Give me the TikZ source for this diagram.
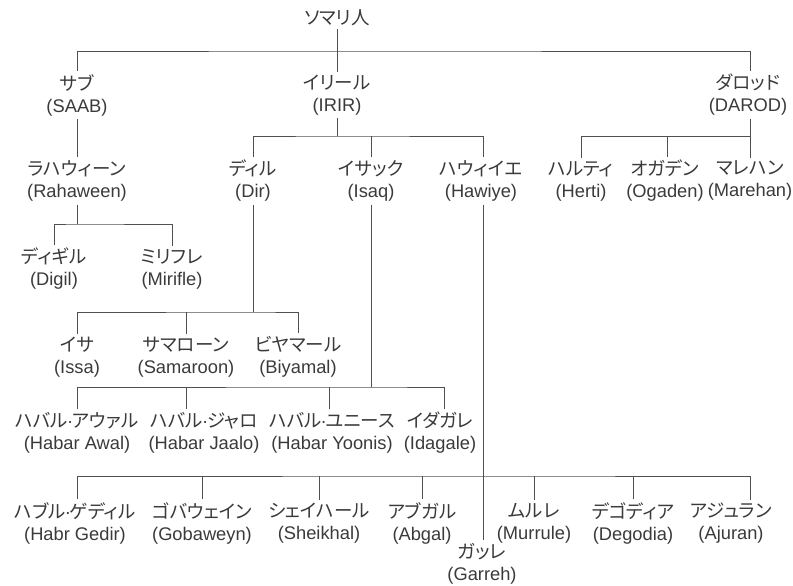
\documentclass[tikz,border=0pt]{standalone}
\usepackage{fontspec}
\setmainfont{Liberation Sans}
\newfontfamily\jpfont[RawFeature=+palt]{Noto Sans CJK JP}
\usetikzlibrary{positioning}
\definecolor{txtgray}{HTML}{3A3A3A}
\definecolor{linegray}{HTML}{505050}
\newcommand\clan[2]{{\jpfont\fontsize{18.5}{22}\selectfont #1}\\#2}
\newcommand\dt{{\normalfont\hspace{-1pt}·\hspace{-1pt}}}

\begin{document}
\begin{tikzpicture}[x=1pt, y=-1pt,
    tag/.style={align=center, inner sep=3pt, text=txtgray, font=\fontsize{18.3}{22}\selectfont},
    link/.style={draw=linegray, line width=0.9pt}]
\useasboundingbox (0,0) rectangle (793,586);
\node[tag] (root) at (337,18) {\jpfont\fontsize{18.5}{22}\selectfont ソマリ人};
\node[tag] (saab) at (77,95) {\clan{サブ}{(SAAB)}};
\node[tag] (irir) at (337,95) {\clan{イリール}{(IRIR)}};
\node[tag] (darod) at (748,95) {\clan{ダロッド}{(DAROD)}};
\node[tag] (rahaween) at (77,181) {\clan{ラハウィーン}{(Rahaween)}};
\node[tag] (dir) at (253,181) {\clan{ディル}{(Dir)}};
\node[tag] (isaq) at (371,181) {\clan{イサック}{(Isaq)}};
\node[tag] (hawiye) at (481,181) {\clan{ハウィイエ}{(Hawiye)}};
\node[tag] (herti) at (581,181) {\clan{ハルティ}{(Herti)}};
\node[tag] (ogaden) at (665,181) {\clan{オガデン}{(Ogaden)}};
\node[tag] (marehan) at (750,181) {\clan{マレハン}{(Marehan)}};
\node[tag] (digil) at (54,269) {\clan{ディギル}{(Digil)}};
\node[tag] (mirifle) at (172,269) {\clan{ミリフレ}{(Mirifle)}};
\node[tag] (issa) at (77,357) {\clan{イサ}{(Issa)}};
\node[tag] (samaroon) at (186,357) {\clan{サマローン}{(Samaroon)}};
\node[tag] (biyamal) at (298,357) {\clan{ビヤマール}{(Biyamal)}};
\node[tag] (awal) at (77,433) {\clan{ハバル\dt アウァル}{(Habar Awal)}};
\node[tag] (jaalo) at (204,433) {\clan{ハバル\dt ジャロ}{(Habar Jaalo)}};
\node[tag] (yoonis) at (332,433) {\clan{ハバル\dt ユニース}{(Habar Yoonis)}};
\node[tag] (idagale) at (440,433) {\clan{イダガレ}{(Idagale)}};
\node[tag] (gedir) at (75,523) {\clan{ハブル\dt ゲディル}{(Habr Gedir)}};
\node[tag] (gobaweyn) at (202,523) {\clan{ゴバウェイン}{(Gobaweyn)}};
\node[tag] (sheikhal) at (319,523) {\clan{シェイハール}{(Sheikhal)}};
\node[tag] (abgal) at (422,523) {\clan{アブガル}{(Abgal)}};
\node[tag] (murrule) at (534,523) {\clan{ムルレ}{(Murrule)}};
\node[tag] (degodia) at (633,523) {\clan{デゴディア}{(Degodia)}};
\node[tag] (ajuran) at (731,523) {\clan{アジュラン}{(Ajuran)}};
\node[tag] (garreh) at (482,564) {\clan{ガッレ}{(Garreh)}};
% bus lines
\coordinate (b0) at (337,51);
\coordinate (b1) at (337,136);
\coordinate (b2) at (750,136);
\coordinate (b3) at (77,224);
\coordinate (b4) at (253,312);
\coordinate (b5) at (371,387);
\coordinate (b6) at (483,476);
\draw[link] (root.south) -- (irir.north);
\draw[link] (saab.north) |- (b0) -| (darod.north -| b2);
\draw[link] (saab) -- (rahaween);
\draw[link] (irir.south) -- (b1);
\draw[link] (dir.north) |- (b1) -| (hawiye.north -| b6);
\draw[link] (isaq.north) -- (isaq.north |- b1);
\draw[link] (darod.south -| b2) -- (marehan.north -| b2);
\draw[link] (herti.north) |- (b2);
\draw[link] ([xshift=2pt]ogaden.north) -- ([xshift=2pt]ogaden.north |- b2);
\draw[link] (rahaween.south) -- (b3);
\draw[link] (digil.north) |- (b3) -| (mirifle.north);
\draw[link] (dir.south) -- (b4);
\draw[link] (issa.north) |- (b4) -| (biyamal.north);
\draw[link] (samaroon.north) -- (samaroon.north |- b4);
\draw[link] (isaq.south) -- (b5);
\draw[link] (awal.north -| b3) |- (b5) -| ([xshift=4pt]idagale.north);
\draw[link] (jaalo.north -| samaroon) -- (samaroon |- b5);
\draw[link] ([xshift=-3pt]yoonis.north) -- ([xshift=-3pt]yoonis.north |- b5);
\draw[link] (hawiye.south -| b6) -- (garreh.north -| b6);
\draw[link] (gedir.north -| b3) |- (b6) -| (ajuran.north -| b2);
\foreach \n in {gobaweyn, sheikhal, abgal, murrule, degodia}
  \draw[link] (\n.north) -- (\n.north |- b6);
\end{tikzpicture}
\end{document}
